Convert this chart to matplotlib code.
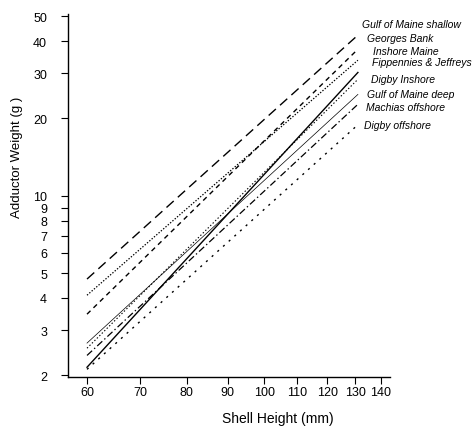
import matplotlib
matplotlib.use("Agg")
import matplotlib.pyplot as plt
import matplotlib.ticker as mticker

plt.rcParams['font.family'] = ['Liberation Sans', 'DejaVu Sans']
plt.rcParams['lines.scale_dashes'] = False

# shell height range of the fitted curves (mm)
shell_height = [60, 131]

# adductor weight (g) at the two ends of each fitted line
areas = ['Gulf of Maine shallow', 'Georges Bank', 'Inshore Maine', 'Fippennies & Jeffreys',
         'Digby Inshore', 'Gulf of Maine deep', 'Machias offshore', 'Digby offshore']
weight_start = [4.74, 3.46, 4.10, 2.55, 2.15, 2.67, 2.39, 2.11]
weight_end = [42.2, 37.2, 33.7, 28.4, 30.2, 24.8, 22.7, 18.9]

x_ticks = [60, 70, 80, 90, 100, 110, 120, 130, 140]
y_ticks = [2, 3, 4, 5, 6, 7, 8, 9, 10, 20, 30, 40, 50]

# line styles (points), one per area
styles = [
    dict(ls=(0, (7, 4)), lw=1.0),
    dict(ls=(0, (3.5, 3)), lw=1.0),
    dict(ls=(0, (1, 1.2)), lw=0.9),
    dict(ls=(0, (1, 1.5)), lw=0.8),
    dict(ls='-', lw=1.0),
    dict(ls='-', lw=0.5),
    dict(ls=(0, (5, 2, 1, 2)), lw=0.9),
    dict(ls=(0, (1.5, 4)), lw=1.0),
]

# label anchor points in pixels (left x, centre y) of the 473x427 figure
label_px = [(362, 25), (367, 39), (373, 52), (372, 63),
            (371, 80), (367, 95), (366, 108), (364, 126)]

fig = plt.figure(figsize=(4.73, 4.27), dpi=100)
ax_l, ax_r, ax_t, ax_b = 68, 390, 15, 378
ax = fig.add_axes([ax_l / 473, (427 - ax_b) / 427, (ax_r - ax_l) / 473, (ax_b - ax_t) / 427])

for area, w0, w1, st in zip(areas, weight_start, weight_end, styles):
    ax.plot(shell_height, [w0, w1], color='black', linestyle=st['ls'], linewidth=st['lw'],
            label=area)

ax.set_xscale('log')
ax.set_yscale('log')
ax.set_xlim(56.8, 143.7)
ax.set_ylim(1.97, 51)

ax.xaxis.set_major_locator(mticker.FixedLocator(x_ticks))
ax.xaxis.set_major_formatter(mticker.FixedFormatter([str(t) for t in x_ticks]))
ax.xaxis.set_minor_locator(mticker.NullLocator())
ax.yaxis.set_major_locator(mticker.FixedLocator(y_ticks))
ax.yaxis.set_major_formatter(mticker.FixedFormatter([str(t) for t in y_ticks]))
ax.yaxis.set_minor_locator(mticker.NullLocator())

ax.tick_params(axis='both', direction='out', length=5, width=0.8, labelsize=9)
ax.tick_params(axis='y', pad=10)
ax.tick_params(axis='x', pad=1.5)

for side in ['top', 'right']:
    ax.spines[side].set_visible(False)
for side in ['left', 'bottom']:
    ax.spines[side].set_linewidth(1.0)

ax.set_ylabel('Adductor Weight (g )', fontsize=9.5)
ax.yaxis.set_label_coords((23 - ax_l) / (ax_r - ax_l), (ax_b - 157) / (ax_b - ax_t))
ax.set_xlabel('Shell Height (mm)', fontsize=10)
ax.xaxis.set_label_coords((278 - ax_l) / (ax_r - ax_l), -(419 - ax_b) / (ax_b - ax_t))
ax.xaxis.label.set_va('center')

for area, (px, py) in zip(areas, label_px):
    ax.text((px - ax_l) / (ax_r - ax_l), (ax_b - py) / (ax_b - ax_t), area,
            transform=ax.transAxes, fontsize=7.5, style='italic',
            ha='left', va='center', clip_on=False)

fig.savefig('out.png', dpi=100)
